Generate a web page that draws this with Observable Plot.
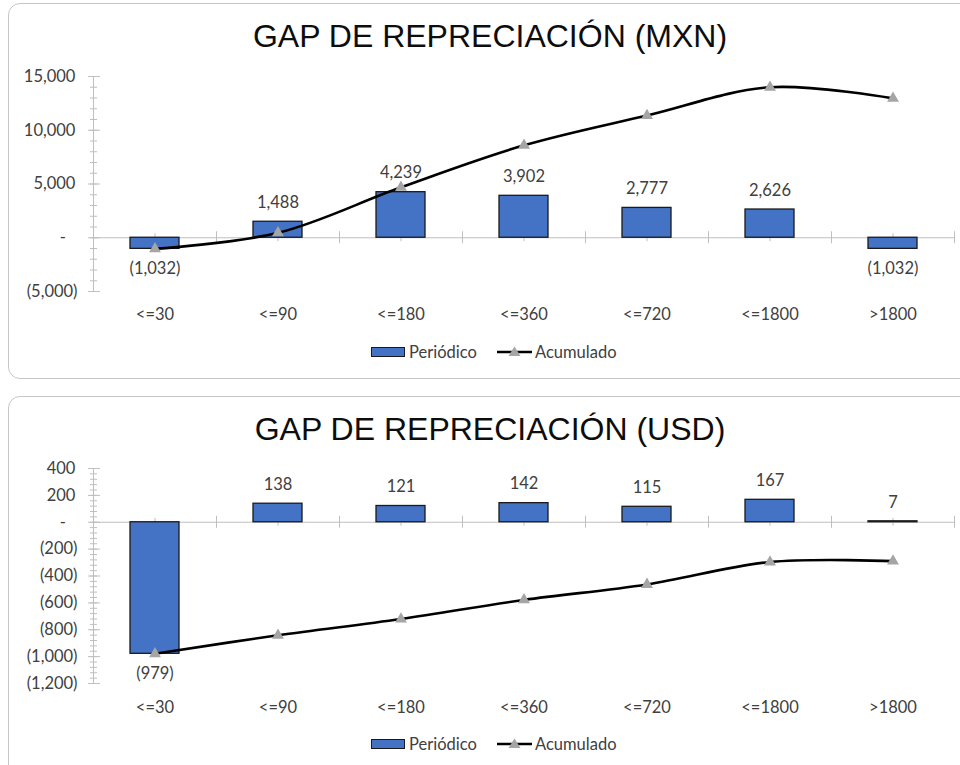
<!DOCTYPE html>
<html><head><meta charset="utf-8">
<script src="https://cdn.jsdelivr.net/npm/d3@7"></script>
<script src="https://cdn.jsdelivr.net/npm/@observablehq/plot@0.6"></script>
<style>
html,body{margin:0;padding:0;background:#fff;}
body{width:960px;height:765px;overflow:hidden;position:relative;font-family:Lato,"Open Sans",sans-serif;}
.panel{position:absolute;left:8px;width:1000px;border:1px solid #c6c6c6;border-radius:12px;box-sizing:border-box;}
.title{position:absolute;left:0;width:980px;text-align:center;font-family:"Liberation Sans",Arial,sans-serif;font-size:32px;line-height:32px;color:#0d0d0d;white-space:nowrap;}
.chart{position:absolute;left:0;}
.leg{position:absolute;font-size:16.5px;line-height:16px;color:#404040;white-space:nowrap;}
.sw{position:absolute;box-sizing:border-box;width:34px;height:10px;background:#4472C4;border:1.3px solid #1a1a1a;}
</style></head>
<body>
<div class="panel" style="top:3px;height:376px;"></div>
<div class="panel" style="top:396px;height:420px;"></div>
<div class="title" style="top:20px;">GAP DE REPRECIACIÓN (MXN)</div>
<div class="title" style="top:413px;">GAP DE REPRECIACIÓN (USD)</div>
<div id="c1" class="chart" style="top:60px;"></div>
<div id="c2" class="chart" style="top:450px;"></div>
<div id="l1"></div>
<div id="l2"></div>
<script>
const categories = ["<=30","<=90","<=180","<=360","<=720","<=1800",">1800"];
const mxnPeriodico = [-1032, 1488, 4239, 3902, 2777, 2626, -1032];
const mxnAcumulado = [-1032, 456, 4695, 8597, 11374, 14000, 12968];
const usdPeriodico = [-979, 138, 121, 142, 115, 167, 7];
const usdAcumulado = [-979, -841, -720, -578, -463, -296, -289];
const mxnTicks = [-5000, 0, 5000, 10000, 15000];
const mxnMinorStep = 1000;
const usdTicks = [-1200, -1000, -800, -600, -400, -200, 0, 200, 400];
const usdMinorStep = 40;
const legendLabels = ["Periódico", "Acumulado"];

const BAR = "#4472C4", GRID = "#bfbfbf", TXT = "#404040", MARK = "#a5a5a5";
const num = d3.format(",");
const labelFmt = v => v === 0 ? "-" : v < 0 ? `(${num(-v)})` : num(v);
const axisFmt = v => v === 0 ? "-\u2007\u2009" : v < 0 ? `(${num(-v)})` : num(v) + "\u2009";

function chart(periodico, acumulado, ticks, minorStep, opts) {
  const data = categories.map((c, i) => ({cat: c, p: periodico[i], a: acumulado[i]}));
  const width = 960, ml = 93, mr = 6;
  const W = width - ml - mr;
  const step = W / categories.length;
  const lo = ticks[0], hi = ticks[ticks.length - 1];
  const minor = d3.range(lo, hi + minorStep / 2, minorStep);
  return Plot.plot({
    width, height: opts.height,
    marginLeft: ml, marginRight: mr, marginTop: opts.mt, marginBottom: opts.mb,
    x: {type: "band", domain: categories, paddingInner: 0.6, paddingOuter: 0.3, axis: null},
    y: {domain: [lo, hi], axis: null},
    style: {fontFamily: "Lato, 'Open Sans', sans-serif", fontSize: "16.5px", color: TXT, background: "transparent", overflow: "visible"},
    marks: [
      Plot.ruleX([categories[0]], {dx: -step / 2, y1: lo, y2: hi, stroke: GRID, strokeWidth: 1}),
      Plot.ruleY(minor, {y: d => d, insetLeft: -3, insetRight: W - 4, stroke: GRID, strokeWidth: 1}),
      Plot.ruleY(ticks, {y: d => d, insetLeft: -5, insetRight: W - 7, stroke: GRID, strokeWidth: 1}),
      Plot.ruleY([0], {stroke: GRID, strokeWidth: 1.2}),
      Plot.ruleX(categories, {x: d => d, y1: 0, y2: 0, insetTop: 6, insetBottom: 6, dx: -step / 2, stroke: GRID}),
      Plot.ruleX([categories[categories.length - 1]], {x: d => d, y1: 0, y2: 0, insetTop: 6, insetBottom: 6, dx: step / 2, stroke: GRID}),
      Plot.ruleX(categories, {x: d => d, y1: 0, y2: 0, insetTop: 4, insetBottom: 4, stroke: GRID}),
      Plot.barY(data, {x: "cat", y: "p", fill: BAR, stroke: "#1a1a1a", strokeWidth: 1.3}),
      Plot.line(data, {x: "cat", y: "a", curve: "catmull-rom", stroke: "#000", strokeWidth: 2.6}),
      Plot.dot(data, {x: "cat", y: "a", symbol: "triangle", r: 4.4, fill: MARK, stroke: null}),
      Plot.text(data.filter(d => d.p >= 0), {x: "cat", y: "p", text: d => labelFmt(d.p), dy: -19, fill: TXT}),
      Plot.text(data.filter(d => d.p < 0), {x: "cat", y: "p", text: d => labelFmt(d.p), dy: 20, fill: TXT}),
      Plot.text(ticks, {y: d => d, text: axisFmt, frameAnchor: "left", lineAnchor: "middle", dx: -16, textAnchor: "end", fill: TXT}),
      Plot.text(categories, {x: d => d, text: d => d, frameAnchor: "bottom", lineAnchor: "middle", dy: opts.catDy, fill: TXT})
    ]
  });
}

document.getElementById("c1").append(chart(mxnPeriodico, mxnAcumulado, mxnTicks, mxnMinorStep, {height: 270, mt: 16, mb: 39, catDy: 23}));
document.getElementById("c2").append(chart(usdPeriodico, usdAcumulado, usdTicks, usdMinorStep, {height: 280, mt: 18, mb: 47, catDy: 24}));

function legend(id, cy) {
  const el = document.getElementById(id);
  el.innerHTML = `
    <div class="sw" style="left:371px;top:${cy - 5}px;"></div>
    <div class="leg" style="left:409px;top:${cy - 8}px;">${legendLabels[0]}</div>
    <svg style="position:absolute;left:496px;top:${cy - 8}px;" width="38" height="16">
      <line x1="1" y1="8" x2="36" y2="8" stroke="#000" stroke-width="2.6"/>
      <path d="M18.5,2.5 L24.5,12 L12.5,12 Z" fill="${MARK}"/>
    </svg>
    <div class="leg" style="left:535px;top:${cy - 8}px;">${legendLabels[1]}</div>`;
}
legend("l1", 352);
legend("l2", 744);
</script>
</body></html>
